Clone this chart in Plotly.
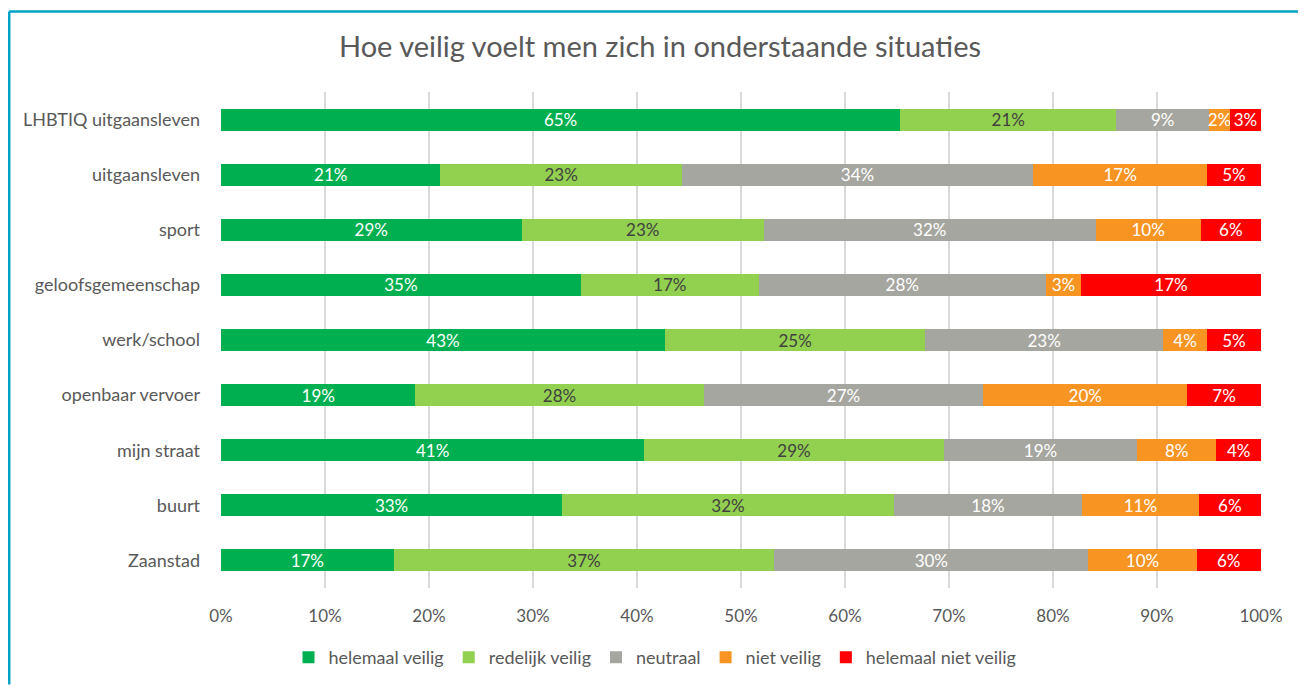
import plotly.graph_objects as go

categories = ["LHBTIQ uitgaansleven", "uitgaansleven", "sport", "geloofsgemeenschap",
              "werk/school", "openbaar vervoer", "mijn straat", "buurt", "Zaanstad"]

helemaal_veilig      = [65.3, 21.1, 28.9, 34.6, 42.7, 18.7, 40.7, 32.8, 16.6]
redelijk_veilig      = [20.8, 23.2, 23.3, 17.1, 25.0, 27.7, 28.8, 31.9, 36.6]
neutraal             = [8.9, 33.8, 31.9, 27.6, 22.9, 26.9, 18.6, 18.1, 30.2]
niet_veilig          = [2.0, 16.7, 10.1, 3.4, 4.2, 19.6, 7.6, 11.2, 10.4]
helemaal_niet_veilig = [3.0, 5.2, 5.8, 17.3, 5.2, 7.1, 4.3, 6.0, 6.2]

series = [
    ("helemaal veilig", helemaal_veilig, "#00B050", "white"),
    ("redelijk veilig", redelijk_veilig, "#92D050", "#404040"),
    ("neutraal", neutraal, "#A6A6A0", "white"),
    ("niet veilig", niet_veilig, "#F79422", "white"),
    ("helemaal niet veilig", helemaal_niet_veilig, "#FF0000", "white"),
]

tick_vals = [0, 10, 20, 30, 40, 50, 60, 70, 80, 90, 100]
tick_text = [f"{v}%" for v in tick_vals]

FONT = "Lato"

fig = go.Figure()
for name, vals, color, tcolor in series:
    fig.add_trace(go.Bar(
        name=name, y=categories, x=vals, orientation="h",
        marker=dict(color=color, line=dict(width=0)),
        texttemplate="%{x:.0f}%", textposition="inside",
        insidetextanchor="middle", textangle=0,
        textfont=dict(family=FONT, size=17, color=tcolor),
        hoverinfo="skip",
    ))

# page has an 8px body margin; work in figure-local pixel coords
OFF = 8
W, H = 1306 - OFF, 688 - OFF
L, R, T, B = 221 - OFF, 1261 - OFF, 92 - OFF, 591 - OFF

fig.update_layout(
    width=W, height=H,
    barmode="stack", bargap=0.6,
    paper_bgcolor="white", plot_bgcolor="white",
    margin=dict(l=L, r=W - R, t=T, b=H - B, pad=0),
    font=dict(family=FONT, color="#595959"),
    uniformtext=dict(minsize=17, mode="show"),
    title=dict(text="Hoe veilig voelt men zich in onderstaande situaties",
               x=(660 - OFF) / W, xanchor="center", xref="container",
               y=1 - (47 - OFF) / H, yanchor="middle", yref="container",
               font=dict(family=FONT, size=29, color="#595959")),
    xaxis=dict(range=[0, 100], tickvals=tick_vals, ticktext=tick_text,
               showgrid=True, gridcolor="#D9D9D9", gridwidth=1.5,
               zeroline=False, showline=False, ticks="",
               tickfont=dict(family=FONT, size=17, color="#595959"),
               ticklabelstandoff=16, fixedrange=True),
    yaxis=dict(autorange="reversed", showgrid=False, zeroline=False,
               showline=False, ticks="",
               tickfont=dict(family=FONT, size=18, color="#595959"),
               ticklabelstandoff=20, fixedrange=True),
    legend=dict(orientation="h", x=(655 - 221) / (R - L), xanchor="center",
                y=-(661 - 591) / (B - T), yanchor="middle",
                font=dict(family=FONT, size=18, color="#595959"),
                traceorder="normal", itemwidth=30, tracegroupgap=0),
    showlegend=True,
)

# outer chart border (teal), left and top edges visible
bx = (1.2 - L) / (R - L)
by = (B - 3) / (B - T)
fig.add_shape(type="line", xref="paper", yref="paper",
              x0=bx, x1=(W - L) / (R - L), y0=by, y1=by,
              line=dict(color="#00A3C7", width=2.5))
fig.add_shape(type="line", xref="paper", yref="paper",
              x0=bx, x1=bx, y0=by, y1=(B - H) / (B - T),
              line=dict(color="#00A3C7", width=2.5))

fig.write_html("out.html", config={"displayModeBar": False})
